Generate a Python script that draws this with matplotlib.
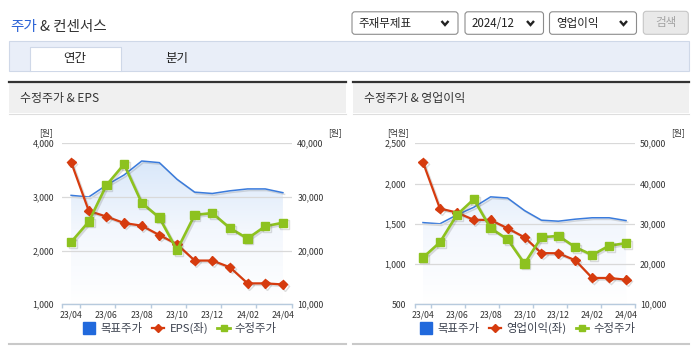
import numpy as np
import matplotlib
matplotlib.use('Agg')
import matplotlib.pyplot as plt
import matplotlib.patheffects as pe
from matplotlib.patches import Rectangle, FancyBboxPatch
from matplotlib.lines import Line2D
from matplotlib.colors import LinearSegmentedColormap
from matplotlib.ticker import FuncFormatter

plt.rcParams['font.family'] = ['Noto Sans CJK KR', 'DejaVu Sans']

# data
months = ['23/04', '23/05', '23/06', '23/07', '23/08', '23/09', '23/10',
          '23/11', '23/12', '24/01', '24/02', '24/03', '24/04']
target_price = [30300, 30000, 32200, 34100, 36700, 36400, 33300,
                30900, 30650, 31150, 31500, 31500, 30800]
adj_price = [21600, 25400, 32200, 36100, 28900, 26150, 20100,
             26650, 27000, 24200, 22250, 24550, 25200]
eps = [3650, 2740, 2635, 2515, 2465, 2290, 2120,
       1815, 1815, 1690, 1390, 1390, 1370]
op_income = [2265, 1690, 1640, 1550, 1547, 1444, 1332,
             1136, 1134, 1047, 827, 827, 806]

RED = '#d63b0e'
GREEN = '#8dc21f'
BLUE = '#3a7bdc'
BLUE_LEG = '#2169dc'
TXT = '#333333'

W, H = 695, 349
fig = plt.figure(figsize=(W / 100, H / 100), dpi=100)
fig.patch.set_facecolor('white')

# pixel-space canvas for the page chrome
bg = fig.add_axes([0, 0, 1, 1], zorder=-10)
bg.set_xlim(0, W)
bg.set_ylim(H, 0)
bg.axis('off')


def px_rect(x0, y0, x1, y1):
    return [x0 / W, 1 - y1 / H, (x1 - x0) / W, (y1 - y0) / H]


# title
bg.text(10, 26.5, '주가', color='#2a62d6', fontsize=10.5, va='center')
bg.text(40.5, 26.5, '& 컨센서스', color=TXT, fontsize=10.5, va='center')

# selects + button
for (x0, x1, label) in [(352, 458, '주재무제표'), (465, 543.5, '2024/12'), (549.5, 636.5, '영업이익')]:
    bg.add_patch(FancyBboxPatch((x0, 11.8), x1 - x0, 22.5,
                                boxstyle='round,pad=0,rounding_size=3',
                                fc='white', ec='#8c8c8c', lw=0.8))
    bg.text(x0 + 6.5, 23.3, label, fontsize=8.3, color='#222222', va='center')
    cx = x1 - 13
    bg.add_line(Line2D([cx - 3.5, cx, cx + 3.5], [21, 25, 21], color='#222222', lw=1.7,
                       solid_capstyle='butt', solid_joinstyle='miter'))
bg.add_patch(FancyBboxPatch((643.3, 11.3), 45, 23, boxstyle='round,pad=0,rounding_size=3',
                            fc='#e9e9e9', ec='#c6c6c6', lw=0.8))
bg.text(666, 22.8, '검색', fontsize=8.3, color='#a3a3a3', ha='center', va='center')

# tab bar
bg.add_patch(Rectangle((8.5, 41.3), 680, 29.4, fc='#e9eef8', ec='#cfd8e8', lw=0.8))
bg.add_patch(Rectangle((29.8, 46.7), 91, 24.6, fc='white', ec='none'))
bg.add_line(Line2D([29.8, 29.8, 120.8, 120.8], [71, 46.7, 46.7, 71], color='#cfd8e8', lw=0.8))
bg.text(75, 58.5, '연간', fontsize=9, color='#222222', ha='center', va='center')
bg.text(177, 58.5, '분기', fontsize=9, color='#222222', ha='center', va='center')

# panels
for (x0, x1, head) in [(8.5, 346, '수정주가 & EPS'), (352.5, 688.5, '수정주가 & 영업이익')]:
    bg.add_patch(Rectangle((x0, 82.5), x1 - x0, 30.8, fc='#f0f0f0', ec='none'))
    bg.add_line(Line2D([x0, x1], [113.5, 113.5], color='#dedede', lw=0.8))
    bg.add_line(Line2D([x0, x1], [81.7, 81.7], color='#333333', lw=1.6))
    bg.add_line(Line2D([x0, x1], [344.2, 344.2], color='#c9c9c9', lw=1.5))
    bg.text(x0 + 11.5, 98.5, head, fontsize=8.6, color=TXT, va='center')

shadow = [pe.SimpleLineShadow(offset=(1.2, -1.2), alpha=0.22, shadow_color='#666666'), pe.Normal()]
comma = FuncFormatter(lambda v, p: f'{int(v):,}')
grad_cmap = LinearSegmentedColormap.from_list('g', ['#ffffff', '#f3f7fd', '#d6e6f9'])
x = np.arange(len(months))


def draw_chart(x0, x1, left_vals, left_ticks, right_ticks, left_unit, left_name):
    ax = fig.add_axes(px_rect(x0, 143.3, x1, 304.3))
    axb = ax.twinx()
    axg = ax.twinx()
    axb.set_zorder(-1)
    axg.set_zorder(1)
    for a in (ax, axb, axg):
        a.patch.set_visible(False)
        for s in a.spines.values():
            s.set_visible(False)
    ax.set_xlim(-0.5, len(months) - 0.5)

    # target price: gradient area + line
    poly = axb.fill_between(x, target_price, right_ticks[0], color='none', lw=0)
    grad = np.linspace(0, 1, 256).reshape(-1, 1)
    img = axb.imshow(grad, extent=[x[0], x[-1], right_ticks[0], right_ticks[-1] * 0.95],
                     origin='lower', aspect='auto', cmap=grad_cmap, zorder=1)
    img.set_clip_path(poly.get_paths()[0], transform=axb.transData)
    axb.plot(x, target_price, color=BLUE, lw=1.1, path_effects=shadow, zorder=2)

    ax.plot(x, left_vals, color=RED, lw=1.6, marker='D', ms=4.6, mfc=RED, mec=RED,
            path_effects=shadow, zorder=3)
    axg.plot(x, adj_price, color=GREEN, lw=1.9, marker='s', ms=6, mfc=GREEN, mec=GREEN,
             path_effects=shadow, zorder=3)

    ax.set_ylim(left_ticks[0], left_ticks[-1])
    for a in (axb, axg):
        a.set_ylim(right_ticks[0], right_ticks[-1])
        a.set_xlim(-0.5, len(months) - 0.5)

    ax.set_yticks(left_ticks)
    ax.yaxis.set_major_formatter(comma)
    ax.tick_params(axis='y', length=0, pad=6, labelsize=6.3, labelcolor=TXT)
    ax.yaxis.grid(True, color='#d9d9d9', lw=0.9)
    axb.set_yticks(right_ticks)
    axb.yaxis.set_major_formatter(comma)
    axb.tick_params(axis='y', length=0, pad=4, labelsize=6.3, labelcolor=TXT)
    axg.tick_params(axis='y', right=False, labelright=False)

    ax.spines['bottom'].set_visible(True)
    ax.spines['bottom'].set_color('#b7cadd')
    ax.spines['bottom'].set_linewidth(1)
    ax.set_xticks(x[::2])
    ax.set_xticklabels(months[::2])
    ax.set_xticks(np.concatenate([[-0.5], np.arange(0.5, len(months), 2)]), minor=True)
    ax.tick_params(axis='x', which='major', length=0, pad=4.5, labelsize=6.3, labelcolor=TXT)
    ax.tick_params(axis='x', which='minor', length=3, width=1, color='#b7cadd')

    bg.text(x0 - 16, 132.5, left_unit, fontsize=6.3, color=TXT, ha='center', va='center')
    bg.text(x1 + 43, 132.5, '[원]', fontsize=6.3, color=TXT, ha='center', va='center')

    handles = [Line2D([], [], ls='none', marker='s', ms=8.5, color=BLUE_LEG),
               Line2D([], [], color=RED, lw=1.6, marker='D', ms=4),
               Line2D([], [], color=GREEN, lw=2, marker='s', ms=5)]
    cx = (x0 + x1) / 2 + 3
    leg = ax.legend(handles, ['목표주가', left_name, '수정주가'], loc='center',
                    bbox_to_anchor=(cx / W, 1 - 328.3 / H), bbox_transform=fig.transFigure,
                    ncol=3, frameon=False, fontsize=8.2, handlelength=1.1, handletextpad=0.45,
                    columnspacing=0.8, borderpad=0, borderaxespad=0)
    for t in leg.get_texts():
        t.set_color('#3d4350')


draw_chart(62.3, 291.7, eps, [1000, 2000, 3000, 4000], [10000, 20000, 30000, 40000],
           '[원]', 'EPS(좌)')
draw_chart(414.5, 634.5, op_income, [500, 1000, 1500, 2000, 2500],
           [10000, 20000, 30000, 40000, 50000], '[억원]', '영업이익(좌)')

fig.savefig('out.png', dpi=100, facecolor='white')
